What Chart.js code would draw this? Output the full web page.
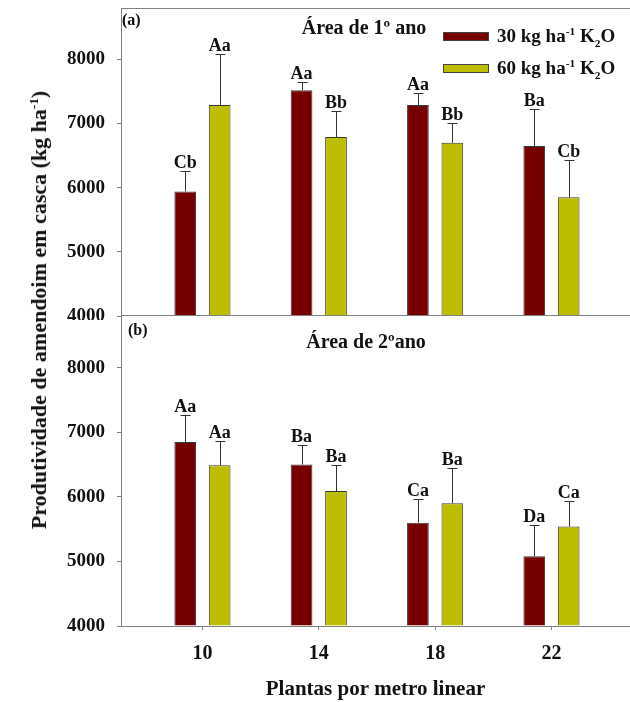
<!DOCTYPE html>
<html>
<head>
<meta charset="utf-8">
<script src="https://cdn.jsdelivr.net/npm/chart.js@4.4.0/dist/chart.umd.min.js"></script>
<style>
body{margin:0;background:#fff;}
#wrap{position:relative;width:630px;height:702px;font-family:"Liberation Serif","Times New Roman",serif;font-weight:bold;color:#111;overflow:hidden;}
#wrap canvas{position:absolute;left:0;}
.t{position:absolute;white-space:nowrap;line-height:1;}
.sw{position:absolute;width:44px;height:7px;border:1px solid #444;}
sup,sub{font-size:60%;line-height:0;}
</style>
</head>
<body>
<div id="wrap">
  <canvas id="chartA" width="630" height="320" style="top:0"></canvas>
  <canvas id="chartB" width="630" height="390" style="top:312px"></canvas>

  <div class="t" style="left:122px;top:12px;font-size:16px">(a)</div>
  <div class="t" style="left:364px;top:17px;font-size:20px;transform:translateX(-50%)">Área de 1º ano</div>
  <div class="t" style="left:128px;top:322px;font-size:16px">(b)</div>
  <div class="t" style="left:366px;top:331px;font-size:20px;transform:translateX(-50%)">Área de 2ºano</div>

  <div class="sw" style="left:443px;top:32px;background:#760000"></div>
  <div class="t" style="left:497px;top:26px;font-size:19px">30 kg ha<sup>-1</sup> K<sub>2</sub>O</div>
  <div class="sw" style="left:443px;top:64px;background:#bdbe00"></div>
  <div class="t" style="left:497px;top:58px;font-size:19px">60 kg ha<sup>-1</sup> K<sub>2</sub>O</div>

  <div class="t" style="left:39px;top:310px;font-size:22px;transform:translate(-50%,-50%) rotate(-90deg)">Produtividade de amendoim em casca (kg ha<sup>-1</sup>)</div>
</div>

<script>
// plantas por metro linear
var plantas = [10, 14, 18, 22];
var yTicks = [4000, 5000, 6000, 7000, 8000];

// Área de 1º ano
var ano1_30 = [5940, 7520, 7290, 6650];
var ano1_30_err = [320, 130, 190, 580];
var ano1_30_let = ['Cb', 'Aa', 'Aa', 'Ba'];
var ano1_60 = [7290, 6790, 6700, 5850];
var ano1_60_err = [800, 410, 310, 580];
var ano1_60_let = ['Aa', 'Bb', 'Bb', 'Cb'];

// Área de 2º ano
var ano2_30 = [6850, 6500, 5600, 5080];
var ano2_30_err = [420, 310, 360, 480];
var ano2_30_let = ['Aa', 'Ba', 'Ca', 'Da'];
var ano2_60 = [6490, 6090, 5900, 5540];
var ano2_60_err = [370, 400, 550, 400];
var ano2_60_let = ['Aa', 'Ba', 'Ba', 'Ca'];

var fam = '"Liberation Serif", "Times New Roman", serif';
var axisColor = '#808080';

function pts(vals) {
	return vals.map(function(v, i){ return {x: plantas[i], y: v}; });
}

function mkDataset(vals, err, letters, color) {
	return {
		data: pts(vals),
		err: err,
		letters: letters,
		backgroundColor: color,
		borderColor: '#3a3a3a',
		borderWidth: 1,
		borderSkipped: 'start',
		base: 4000,
		categoryPercentage: 0.592,
		barPercentage: 0.63
	};
}

// error bars (upper only) + letters over them, plus the frame lines
var errPlugin = {
	id: 'errbars',
	afterDatasetsDraw: function(chart) {
		var ctx = chart.ctx;
		var ys = chart.scales.y;
		ctx.save();
		ctx.strokeStyle = '#333';
		ctx.lineWidth = 1;
		ctx.fillStyle = '#111';
		ctx.font = 'bold 18px ' + fam;
		ctx.textAlign = 'center';
		ctx.textBaseline = 'alphabetic';
		chart.data.datasets.forEach(function(ds, di) {
			var meta = chart.getDatasetMeta(di);
			meta.data.forEach(function(bar, i) {
				var x = Math.round(bar.x) + 0.5;
				var top = Math.round(ys.getPixelForValue(ds.data[i].y + ds.err[i])) + 0.5;
				ctx.beginPath();
				ctx.moveTo(x, bar.y);
				ctx.lineTo(x, top);
				ctx.moveTo(x - 5, top);
				ctx.lineTo(x + 5, top);
				ctx.stroke();
				ctx.fillText(ds.letters[i], bar.x, top - 4);
			});
		});
		ctx.restore();

		var a = chart.chartArea;
		ctx.save();
		ctx.strokeStyle = axisColor;
		ctx.lineWidth = 1;
		ctx.beginPath();
		if (chart.canvas.id === 'chartA') {
			ctx.moveTo(a.left, a.top + 0.5);
			ctx.lineTo(a.right, a.top + 0.5);
			ctx.moveTo(a.left, a.bottom - 0.5);
			ctx.lineTo(a.right, a.bottom - 0.5);
		}
		ctx.stroke();
		ctx.restore();
	}
};

function yScale() {
	return {
		min: 4000,
		max: 8800,
		afterBuildTicks: function(s){ s.ticks = yTicks.map(function(v){ return {value: v}; }); },
		afterFit: function(s){ s.width = 121; s.paddingTop = 0; s.paddingBottom = 0; },
		grid: {display: true, drawOnChartArea: false, drawTicks: true, tickLength: 4, color: axisColor},
		border: {display: true, color: axisColor},
		ticks: {
			padding: 12, color: '#111', font: {family: fam, size: 19, weight: 'bold'},
			callback: function(v){ return String(v); }
		}
	};
}

function xScale(show) {
	return {
		type: 'linear',
		min: 7.2,
		max: 24.7,
		offset: false,
		display: show,
		afterBuildTicks: function(s){ s.ticks = plantas.map(function(v){ return {value: v}; }); },
		afterFit: function(s){ if (show) s.height = 76; s.paddingLeft = 0; s.paddingRight = 0; },
		grid: {display: true, offset: false, drawOnChartArea: false, drawTicks: true, tickLength: 4, color: axisColor},
		border: {display: true, color: axisColor},
		ticks: {padding: 12, color: '#111', font: {family: fam, size: 20, weight: 'bold'}},
		title: {
			display: show,
			text: 'Plantas por metro linear',
			color: '#111',
			font: {family: fam, size: 21, weight: 'bold'},
			padding: {top: 0, bottom: 0}
		}
	};
}

function makeChart(id, d30, e30, l30, d60, e60, l60, showX, pad) {
	return new Chart(document.getElementById(id), {
		type: 'bar',
		data: {
			datasets: [
				mkDataset(d30, e30, l30, '#760000'),
				mkDataset(d60, e60, l60, '#bdbe00')
			]
		},
		options: {
			responsive: false,
			animation: false,
			layout: {padding: pad},
			plugins: {legend: {display: false}, tooltip: {enabled: false}},
			scales: {x: xScale(showX), y: yScale()}
		},
		plugins: [errPlugin]
	});
}

makeChart('chartA', ano1_30, ano1_30_err, ano1_30_let, ano1_60, ano1_60_err, ano1_60_let,
	false, {top: 8, bottom: 4, left: 0, right: 0});
makeChart('chartB', ano2_30, ano2_30_err, ano2_30_let, ano2_60, ano2_60_err, ano2_60_let,
	true, {top: 4, bottom: 0, left: 0, right: 0});
</script>
</body>
</html>
